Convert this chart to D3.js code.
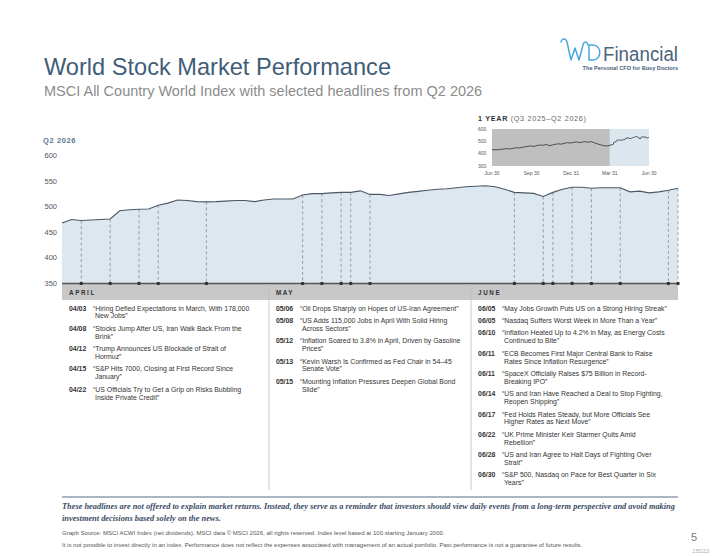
<!DOCTYPE html>
<html>
<head>
<meta charset="utf-8">
<script src="https://cdn.jsdelivr.net/npm/d3@7"></script>
<style>
  body { margin: 0; background: #fff; }
  svg { display: block; }
  text { font-family: "Liberation Sans", Arial, sans-serif; }
</style>
</head>
<body>
<svg id="chart" width="720" height="556"></svg>
<script>
// Q2 2026 daily index level (one value per weekday, Apr 1 -> Jun 30)
const q2Values = [467, 474, 472, 473, 474, 475, 491, 493, 494, 494.5,
  502, 506, 512, 511, 509, 508.5, 509, 510, 511, 511,
  509, 512, 514, 514, 514, 522, 524.5, 524.5, 526, 527,
  527, 530, 523, 523, 521, 524, 527, 529, 531, 533,
  534, 536, 538, 539, 540, 538, 533, 527, 526, 525,
  519, 527, 533, 537, 537, 535, 536, 536, 536, 528,
  529.5, 526, 528, 531, 535];

// 1 year inset: weekly level Jul 2025 -> Mar 2026 (Q2 2026 uses q2Values)
const yearValues = [430, 433, 431, 436, 438, 441, 437, 444, 448, 446,
  452, 455, 460, 463, 458, 466, 470, 468, 474, 465,
  470, 476, 480, 477, 484, 489, 486, 491, 495, 490,
  494, 497, 493, 498, 488, 480, 472, 466, 462];

const yTicks = [350, 400, 450, 500, 550, 600];
const insetYTicks = [300, 400, 500, 600];
const insetXTicks = [["2025-06-30", "Jun 30"], ["2025-09-30", "Sep 30"], ["2025-12-31", "Dec 31"],
  ["2026-03-31", "Mar 31"], ["2026-06-30", "Jun 30"]];
const months = ["APRIL", "MAY", "JUNE"];

const aprilHeadlines = [
  ["04/03", "“Hiring Defied Expectations in March, With 178,000|New Jobs”"],
  ["04/08", "“Stocks Jump After US, Iran Walk Back From the|Brink”"],
  ["04/12", "“Trump Announces US Blockade of Strait of|Hormuz”"],
  ["04/15", "“S&P Hits 7000, Closing at First Record Since|January”"],
  ["04/22", "“US Officials Try to Get a Grip on Risks Bubbling|Inside Private Credit”"]
];
const mayHeadlines = [
  ["05/06", "“Oil Drops Sharply on Hopes of US-Iran Agreement”"],
  ["05/08", "“US Adds 115,000 Jobs in April With Solid Hiring|Across Sectors”"],
  ["05/12", "“Inflation Soared to 3.8% in April, Driven by Gasoline|Prices”"],
  ["05/13", "“Kevin Warsh Is Confirmed as Fed Chair in 54–45|Senate Vote”"],
  ["05/15", "“Mounting Inflation Pressures Deepen Global Bond|Slide”"]
];
const juneHeadlines = [
  ["06/05", "“May Jobs Growth Puts US on a Strong Hiring Streak”"],
  ["06/05", "“Nasdaq Suffers Worst Week in More Than a Year”"],
  ["06/10", "“Inflation Heated Up to 4.2% in May, as Energy Costs|Continued to Bite”"],
  ["06/11", "“ECB Becomes First Major Central Bank to Raise|Rates Since Inflation Resurgence”"],
  ["06/11", "“SpaceX Officially Raises $75 Billion in Record-|Breaking IPO”"],
  ["06/14", "“US and Iran Have Reached a Deal to Stop Fighting,|Reopen Shipping”"],
  ["06/17", "“Fed Holds Rates Steady, but More Officials See|Higher Rates as Next Move”"],
  ["06/22", "“UK Prime Minister Keir Starmer Quits Amid|Rebellion”"],
  ["06/28", "“US and Iran Agree to Halt Days of Fighting Over|Strait”"],
  ["06/30", "“S&P 500, Nasdaq on Pace for Best Quarter in Six|Years”"]
];

const parseDate = d3.utcParse("%Y-%m-%d");

// weekdays of Q2 2026
const tradingDays = d3.utcDays(parseDate("2026-04-01"), parseDate("2026-07-01"))
  .filter(d => d.getUTCDay() !== 0 && d.getUTCDay() !== 6);

const dayIndex = (date) => {
  const i = tradingDays.findIndex(d => d >= date);
  return i < 0 ? tradingDays.length - 1 : i;
};

const svg = d3.select("#chart");
svg.append("rect").attr("width", 720).attr("height", 556).attr("fill", "#fff");

// ---- header
svg.append("text").attr("x", 44).attr("y", 75)
  .attr("font-size", 23.6).attr("fill", "#3f5d78")
  .text("World Stock Market Performance");
svg.append("text").attr("x", 44).attr("y", 96)
  .attr("font-size", 14.5).attr("fill", "#8c8c8c")
  .text("MSCI All Country World Index with selected headlines from Q2 2026");

// logo
const logo = svg.append("g").attr("fill", "none").attr("stroke", "#4aa8de")
  .attr("stroke-width", 1.5).attr("stroke-linecap", "round").attr("stroke-linejoin", "round");
logo.append("path").attr("d", "M561,42 C562,38 566,38 567,42 L571,60 L575,48 L579,60 L583,45 C584,41 587,41 588,45");
logo.append("path").attr("d", "M589,45 L589,60 L593,60 C602,60 602,45 593,45 Z");
svg.append("text").attr("x", 603).attr("y", 61)
  .attr("font-size", 20).attr("textLength", 75).attr("lengthAdjust", "spacingAndGlyphs")
  .attr("fill", "#4b6478").text("Financial");
svg.append("text").attr("x", 678).attr("y", 70).attr("text-anchor", "end")
  .attr("font-size", 5.6).attr("font-weight", "bold").attr("fill", "#3f5d78")
  .text("The Personal CFO for Busy Doctors");

// ---- inset 1 year chart
const insetDates = yearValues.map((v, i) => d3.utcDay.offset(parseDate("2025-06-30"), i * 7))
  .concat(tradingDays);
const insetSeries = yearValues.concat(q2Values).map((v, i) => ({ date: insetDates[i], value: v }));

const ix = d3.scaleUtc().domain([parseDate("2025-06-30"), parseDate("2026-06-30")]).range([492, 649]);
const iy = d3.scaleLinear().domain([300, 600]).range([166, 129]);

const inset = svg.append("g");
inset.append("text").attr("x", 478).attr("y", 121).attr("font-size", 7.2)
  .attr("letter-spacing", 0.7).attr("fill", "#333")
  .call(t => {
    t.append("tspan").attr("font-weight", "bold").text("1 YEAR ");
    t.append("tspan").attr("fill", "#666").text("(Q3 2025–Q2 2026)");
  });
inset.append("rect").attr("x", ix.range()[0]).attr("y", iy(600))
  .attr("width", ix(parseDate("2026-03-31")) - ix.range()[0]).attr("height", iy(300) - iy(600))
  .attr("fill", "#bfbfbf");
inset.append("rect").attr("x", ix(parseDate("2026-03-31"))).attr("y", iy(600))
  .attr("width", ix.range()[1] - ix(parseDate("2026-03-31"))).attr("height", iy(300) - iy(600))
  .attr("fill", "#dce6ee");
inset.append("path").datum(insetSeries)
  .attr("fill", "none").attr("stroke", "#3d4247").attr("stroke-width", 0.9)
  .attr("d", d3.line().x(d => ix(d.date)).y(d => iy(d.value)));
inset.selectAll(".iy").data(insetYTicks).join("text")
  .attr("x", 478).attr("y", d => iy(d) + 1.8)
  .attr("font-size", 5).attr("fill", "#555").text(d => d);
inset.selectAll(".ix").data(insetXTicks).join("text")
  .attr("x", d => ix(parseDate(d[0]))).attr("y", 175)
  .attr("text-anchor", "middle").attr("font-size", 5).attr("fill", "#555").text(d => d[1]);

// ---- main chart
const x = d3.scaleLinear().domain([0, tradingDays.length - 1]).range([62, 678]);
const y = d3.scaleLinear().domain([350, 600]).range([283, 155]);

svg.append("text").attr("x", 43).attr("y", 142.5)
  .attr("font-size", 7.5).attr("font-weight", "bold").attr("letter-spacing", 0.6)
  .attr("fill", "#5b7a93").text("Q2 2026");

const yAxis = svg.append("g").attr("transform", "translate(57,0)")
  .call(d3.axisLeft(y).tickValues(yTicks).tickSize(0).tickPadding(0));
yAxis.select(".domain").remove();
yAxis.selectAll("text").attr("font-size", 7.5).attr("fill", "#555")
  .attr("font-family", "'Liberation Sans', Arial, sans-serif");

svg.append("path").datum(q2Values)
  .attr("fill", "#dde7ef")
  .attr("d", d3.area().x((d, i) => x(i)).y0(y(350)).y1(d => y(d)));

// event markers
const allEvents = aprilHeadlines.concat(mayHeadlines, juneHeadlines);
const eventIdx = Array.from(new Set(allEvents.map(e => dayIndex(parseDate("2026-" + e[0].replace("/", "-"))))));

svg.append("g").selectAll("line").data(eventIdx).join("line")
  .attr("x1", d => x(d)).attr("x2", d => x(d))
  .attr("y1", d => y(q2Values[d])).attr("y2", y(350))
  .attr("stroke", "#6b6b6b").attr("stroke-width", 0.6).attr("stroke-dasharray", "3,2.5");

svg.append("path").datum(q2Values)
  .attr("fill", "none").attr("stroke", "#4a5866").attr("stroke-width", 1.1)
  .attr("d", d3.line().x((d, i) => x(i)).y(d => y(d)));

// month band
const monthStart = [0, dayIndex(parseDate("2026-05-01")), dayIndex(parseDate("2026-06-01"))];
const monthLeft = monthStart.map(i => i === 0 ? x(0) : x(i - 0.5));

svg.append("rect").attr("x", x(0)).attr("y", 284)
  .attr("width", x(tradingDays.length - 1) - x(0)).attr("height", 16).attr("fill", "#c8c8c8");
svg.append("line").attr("x1", x(0)).attr("x2", x(tradingDays.length - 1))
  .attr("y1", 283.5).attr("y2", 283.5).attr("stroke", "#555").attr("stroke-width", 1.6);

svg.append("g").selectAll("rect").data(eventIdx).join("rect")
  .attr("x", d => x(d) - 1.5).attr("y", 282).attr("width", 3).attr("height", 3).attr("fill", "#333");

svg.append("g").selectAll("line").data(monthLeft.slice(1)).join("line")
  .attr("x1", d => d).attr("x2", d => d).attr("y1", 284).attr("y2", 490)
  .attr("stroke", "#bcbcbc").attr("stroke-width", 0.8);

svg.append("g").selectAll("text").data(months).join("text")
  .attr("x", (d, i) => monthLeft[i] + 7).attr("y", 294.5)
  .attr("font-size", 6.3).attr("font-weight", "bold").attr("letter-spacing", 1.6)
  .attr("fill", "#333").text(d => d);

// headlines
const columns = [aprilHeadlines, mayHeadlines, juneHeadlines];
const lineH = 7.9, entryGap = 4.5;
columns.forEach((list, c) => {
  const g = svg.append("g");
  let yy = 310.5;
  list.forEach(([date, text]) => {
    const lines = text.split("|");
    g.append("text").attr("x", monthLeft[c] + 7).attr("y", yy)
      .attr("font-size", 6.9).attr("font-weight", "bold").attr("fill", "#333").text(date);
    lines.forEach((ln, k) => {
      g.append("text").attr("x", monthLeft[c] + 31 + (k ? 2 : 0)).attr("y", yy + k * lineH)
        .attr("font-size", 6.9).attr("fill", "#333").text(ln);
    });
    yy += lines.length * lineH + entryGap;
  });
});

// ---- footer
svg.append("line").attr("x1", 62).attr("x2", 678).attr("y1", 497).attr("y2", 497)
  .attr("stroke", "#8d9fb0").attr("stroke-width", 1.5);

const foot = svg.append("g").attr("font-style", "italic").attr("font-weight", "bold")
  .attr("fill", "#3a4b63").attr("font-size", 8.35);
foot.append("text").attr("x", 62).attr("y", 508.5)
  .style("font-family", "'Liberation Serif', 'Times New Roman', serif")
  .text("These headlines are not offered to explain market returns. Instead, they serve as a reminder that investors should view daily events from a long-term perspective and avoid making");
foot.append("text").attr("x", 62).attr("y", 521)
  .style("font-family", "'Liberation Serif', 'Times New Roman', serif")
  .text("investment decisions based solely on the news.");

svg.append("text").attr("x", 62).attr("y", 535).attr("font-size", 6.05).attr("fill", "#555")
  .text("Graph Source: MSCI ACWI Index (net dividends). MSCI data © MSCI 2026, all rights reserved. Index level based at 100 starting January 2000.");
svg.append("text").attr("x", 62).attr("y", 547).attr("font-size", 6.05).attr("fill", "#555")
  .text("It is not possible to invest directly in an index. Performance does not reflect the expenses associated with management of an actual portfolio. Past performance is not a guarantee of future results.");
svg.append("text").attr("x", 691).attr("y", 541).attr("font-size", 11).attr("fill", "#777").text("5");
svg.append("text").attr("x", 709).attr("y", 553).attr("text-anchor", "end")
  .attr("font-size", 5).attr("fill", "#aaa").text("135213");
</script>
</body>
</html>
